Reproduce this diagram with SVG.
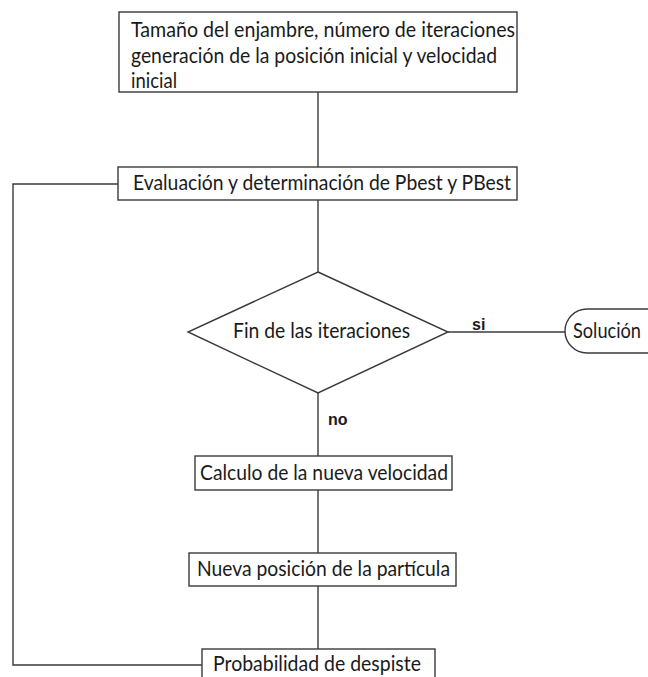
<svg xmlns="http://www.w3.org/2000/svg" width="648" height="677" viewBox="0 0 648 677">
<style>
.box{fill:#fff;stroke:#3a3a3a;stroke-width:1.4}
.ln{fill:none;stroke:#3a3a3a;stroke-width:1.4}
.t{font-family:Lato,"Open Sans","Liberation Sans",sans-serif;font-size:21px;fill:#1a1a1a}
.lb{font-family:"Liberation Sans",Arial,sans-serif;font-size:16px;font-weight:bold;fill:#1a1a1a}
</style>
<rect width="648" height="677" fill="#fff"/>
<g id="connectors">
<line class="ln" x1="318" y1="92" x2="318" y2="167"/>
<polyline class="ln" points="118,184 13,184 13,665 202,665"/>
<line class="ln" x1="318" y1="200" x2="318" y2="272"/>
<line class="ln" x1="448" y1="332" x2="565" y2="332"/>
<line class="ln" x1="318" y1="393" x2="318" y2="456"/>
<line class="ln" x1="318" y1="490" x2="318" y2="553"/>
<line class="ln" x1="318" y1="586" x2="318" y2="649"/>
<text class="lb" x="472" y="330">si</text>
<text class="lb" x="328" y="425">no</text>
</g>
<g id="n_inicio">
<rect class="box" x="119" y="12" width="398" height="80"/>
<text class="t" x="131" y="37" textLength="384" lengthAdjust="spacingAndGlyphs">Tamaño del enjambre, número de iteraciones</text>
<text class="t" x="131" y="63" textLength="366" lengthAdjust="spacingAndGlyphs">generación de la posición inicial y velocidad</text>
<text class="t" x="131" y="88" textLength="46" lengthAdjust="spacingAndGlyphs">inicial</text>
</g>
<g id="n_evaluacion">
<rect class="box" x="118" y="167" width="399" height="33"/>
<text class="t" x="133" y="190" textLength="378" lengthAdjust="spacingAndGlyphs">Evaluación y determinación de Pbest y PBest</text>
</g>
<g id="n_decision">
<polygon class="box" points="318,272 448,332 318,393 188,332"/>
<text class="t" x="233" y="338" textLength="177" lengthAdjust="spacingAndGlyphs">Fin de las iteraciones</text>
</g>
<g id="n_solucion">
<path class="box" d="M648,309 H587 A22,22 0 0 0 587,353 H648"/>
<text class="t" x="573" y="338" font-size="19" textLength="68" lengthAdjust="spacingAndGlyphs">Solución</text>
</g>
<g id="n_velocidad">
<rect class="box" x="195" y="456" width="257" height="34"/>
<text class="t" x="200" y="480" textLength="248" lengthAdjust="spacingAndGlyphs">Calculo de la nueva velocidad</text>
</g>
<g id="n_posicion">
<rect class="box" x="189" y="553" width="267" height="33"/>
<text class="t" x="197" y="576" textLength="253" lengthAdjust="spacingAndGlyphs">Nueva posición de la partícula</text>
</g>
<g id="n_despiste">
<rect class="box" x="202" y="649" width="233" height="40"/>
<text class="t" x="213" y="671" textLength="208" lengthAdjust="spacingAndGlyphs">Probabilidad de despiste</text>
</g>
</svg>
